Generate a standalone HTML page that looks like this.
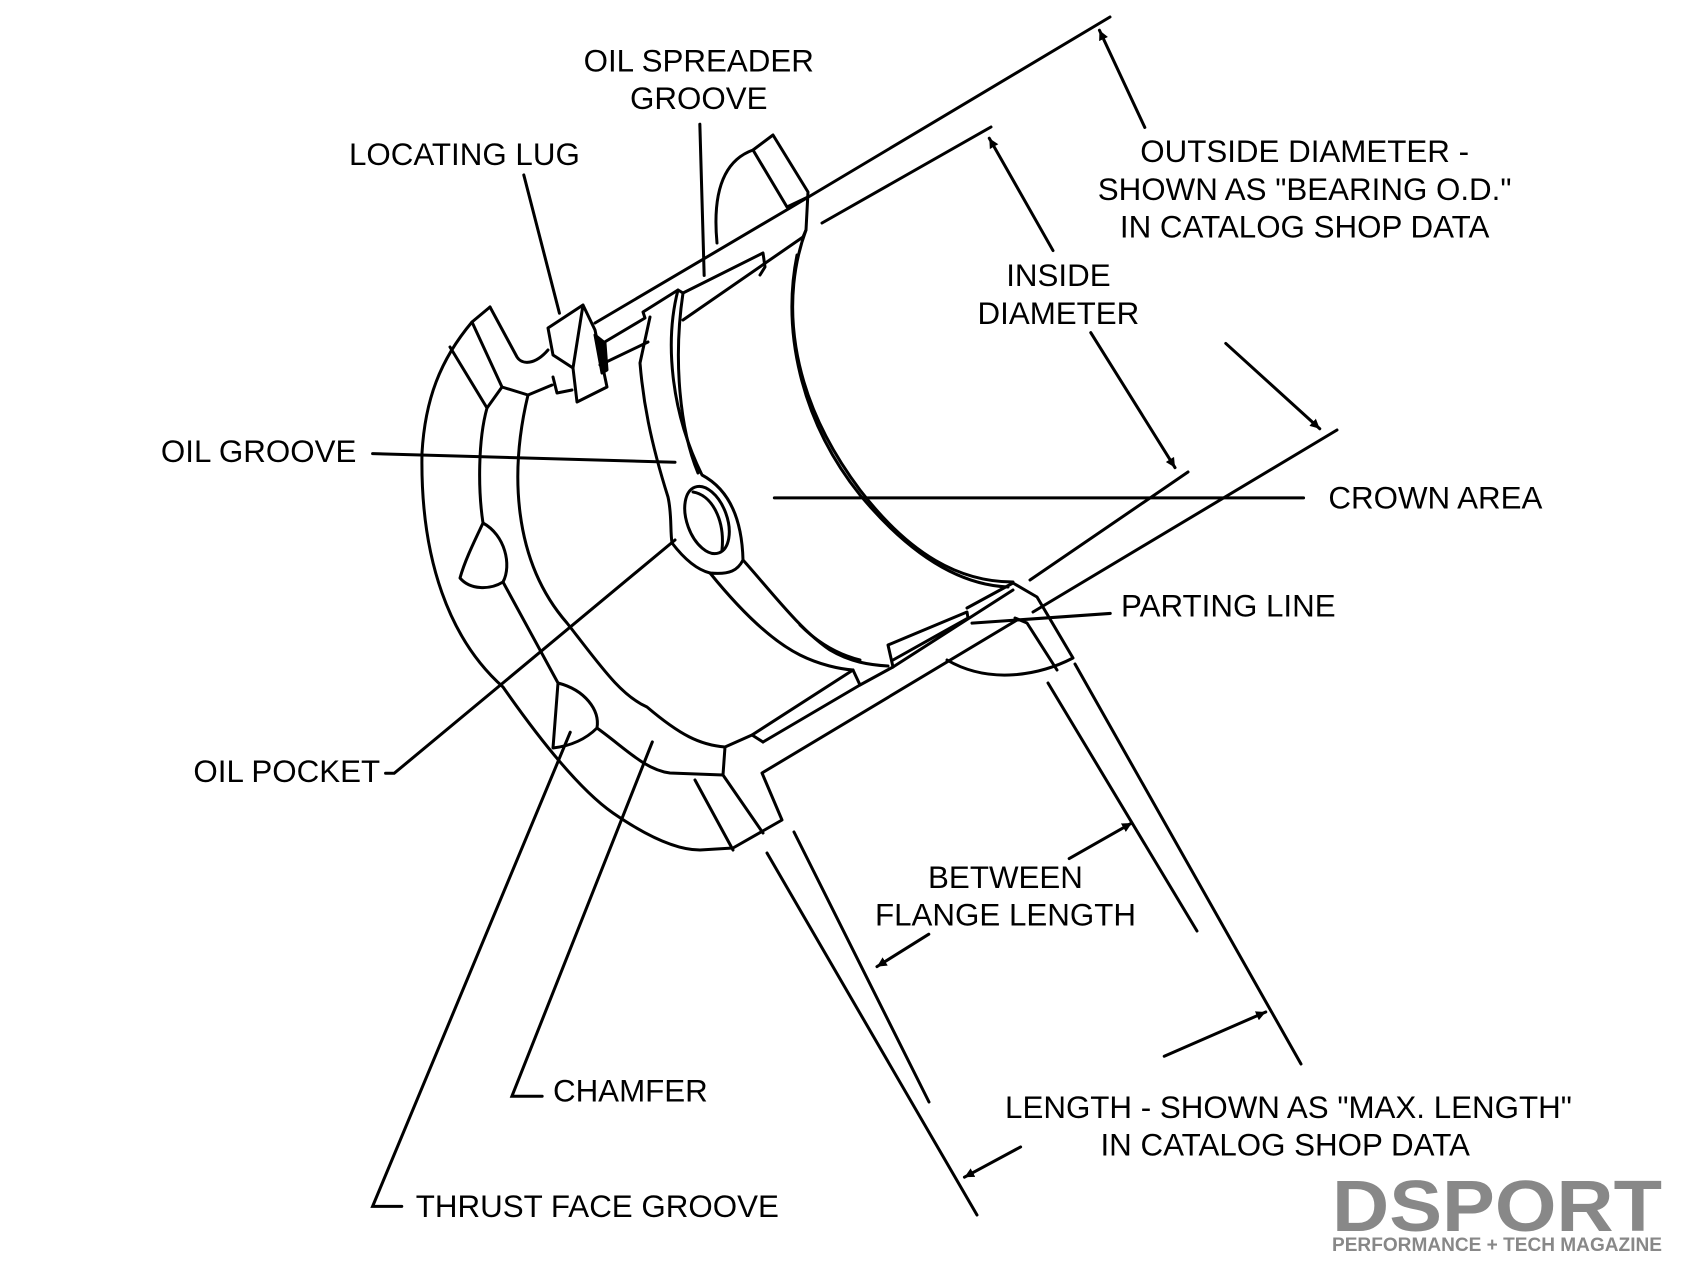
<!DOCTYPE html>
<html><head><style>
html,body{margin:0;padding:0;background:#fff;}
svg{display:block;}
text{font-family:"Liberation Sans",Arial,sans-serif;font-size:29px;fill:#000;}
</style></head><body>
<svg width="1700" height="1275" viewBox="0 0 1700 1275" xmlns="http://www.w3.org/2000/svg">
<defs>
<marker id="ah" viewBox="0 0 10 10" refX="10" refY="5" markerWidth="9" markerHeight="9" orient="auto-start-reverse" markerUnits="userSpaceOnUse">
<path d="M0,0 L10,5 L0,10 z" fill="#000"/></marker>
</defs>
<g fill="none" stroke="#000" stroke-width="3" stroke-linejoin="round" stroke-linecap="round">
<path d="M717,243 C712,190 725,160 753,150 L773,135 L808,192 L806,230 L803,237"/>
<path d="M753,150 L787,207 L808,197"/>
<path d="M595,323 L790,208 L1110,17"/>
<path d="M822,223 L991,127"/>
<path d="M603,343 L645,318 L643,312 L678,290 L683,293 L763,253 L765,267 L760,275"/>
<path d="M683,320 L803,237"/>
<path d="M600,365 L648,342"/>
<path d="M548,328 L583,305 L595,330 L607,387 L577,402 L573,368 L553,355 Z M583,305 L573,368 M553,377 L557,393 L572,390"/>
<path d="M595,335 L605,343 L607,370 L602,373 Z" fill="#000"/>
<path d="M490,307 L517,357 C522,365 535,365 548,350"/>
<path d="M490,307 L472,322 C440,360 425,400 422,453 C420,560 450,640 503,687 C540,740 580,790 613,813 C645,835 675,850 700,850 L733,848 L782,820 L762,773 L1017,620"/>
<path d="M450,347 L487,408 M472,322 L502,387 L528,395 L552,385"/>
<path d="M502,387 L487,408 C478,440 478,490 483,523"/>
<path d="M483,523 C505,535 512,565 503,582 C490,590 470,590 460,578 C465,560 475,540 483,523 Z"/>
<path d="M503,582 L558,683"/>
<path d="M558,683 C585,690 600,710 597,728 C585,740 570,746 553,748 Z"/>
<path d="M597,728 C625,748 645,770 670,773 L723,775 L725,747 L752,735 L763,742"/>
<path d="M528,395 C510,470 512,560 567,623 C600,665 620,695 647,707 C680,735 700,745 725,747"/>
<path d="M723,775 L763,833 M695,780 L733,850"/>
<path d="M650,317 L640,363 C643,400 650,440 668,497 C672,515 670,530 672,543 C685,560 698,570 710,573 C730,575 738,570 743,560"/>
<path d="M678,290 C665,340 670,410 702,475 C730,490 742,520 743,560"/>
<path d="M683,293 C673,360 680,430 698,473"/>
<ellipse cx="707" cy="520" rx="20" ry="35" transform="rotate(-20 707 520)"/>
<path d="M693,492 C712,495 725,520 722,550"/>
<path d="M743,560 C770,590 800,630 830,650 C850,662 870,665 888,666"/>
<path d="M710,573 C740,610 770,640 800,655 C820,665 840,669 853,670"/>
<path d="M800,625 C820,645 840,655 860,660"/>
<path d="M806,230 C782,295 785,390 860,490 C910,555 960,582 1013,582"/>
<path d="M797,255 C782,330 800,420 860,495 C910,555 960,585 1008,587"/>
<path d="M853,670 L860,685 L893,667 L888,645 L967,612 L968,618 L893,660"/>
<path d="M752,735 L853,670 M763,742 L860,685"/>
<path d="M893,667 L1013,590"/>
<path d="M967,608 L1013,583 L1037,597 L1073,658 C1040,675 990,685 947,660"/>
<path d="M1015,618 L1027,623 L1057,670"/>
<path d="M1033,612 L1337,430"/>
<path d="M1030,580 L1188,472"/>
<path d="M767,853 L977,1215 M794,832 L929,1102 M1075,664 L1301,1064 M1048,683 L1197,931"/>
</g>
<g transform="scale(1.08)">
<g fill="none" stroke="#000" stroke-width="2.8" stroke-linecap="round">
<path d="M1060,118 L1018,28" marker-end="url(#ah)"/>
<path d="M1135,318 L1222,397" marker-end="url(#ah)"/>
<path d="M975,232 L916,128" marker-end="url(#ah)"/>
<path d="M1010,308 L1088,433" marker-end="url(#ah)"/>
<path d="M945,1062 L893,1090" marker-end="url(#ah)"/>
<path d="M1078,978 L1172,937" marker-end="url(#ah)"/>
<path d="M860,865 L812,895" marker-end="url(#ah)"/>
<path d="M990,795 L1048,762" marker-end="url(#ah)"/>
<path d="M648,115 L652,255 M485,162 L518,290 M345,420 L625,428 M717,461 L1207,461 M1028,568 L900,577 M357,716 L365,716 L625,500 M502,1015 L474,1015 L604,687 M372,1117 L345,1117 L528,678"/>
</g>
<text x="647" y="66" text-anchor="middle">OIL SPREADER</text>
<text x="647" y="101" text-anchor="middle">GROOVE</text>
<text x="430" y="153" text-anchor="middle">LOCATING LUG</text>
<text x="330" y="428" text-anchor="end">OIL GROOVE</text>
<text x="1230" y="471">CROWN AREA</text>
<text x="1038" y="571">PARTING LINE</text>
<text x="352" y="724" text-anchor="end">OIL POCKET</text>
<text x="512" y="1020">CHAMFER</text>
<text x="385" y="1127">THRUST FACE GROOVE</text>
<text x="1208" y="150" text-anchor="middle">OUTSIDE DIAMETER -</text>
<text x="1208" y="185" text-anchor="middle">SHOWN AS "BEARING O.D."</text>
<text x="1208" y="220" text-anchor="middle">IN CATALOG SHOP DATA</text>
<text x="980" y="265" text-anchor="middle">INSIDE</text>
<text x="980" y="300" text-anchor="middle">DIAMETER</text>
<text x="931" y="822" text-anchor="middle">BETWEEN</text>
<text x="931" y="857" text-anchor="middle">FLANGE LENGTH</text>
<text x="1193" y="1035" text-anchor="middle">LENGTH - SHOWN AS "MAX. LENGTH"</text>
<text x="1190" y="1070" text-anchor="middle">IN CATALOG SHOP DATA</text>
</g>
<text x="1332" y="1231" textLength="330" lengthAdjust="spacingAndGlyphs" style="font-size:72px;font-weight:bold;fill:#888;">DSPORT</text>
<text x="1332" y="1251" textLength="330" lengthAdjust="spacingAndGlyphs" style="font-size:19px;font-weight:bold;fill:#888">PERFORMANCE + TECH MAGAZINE</text>
</svg>
</body></html>
